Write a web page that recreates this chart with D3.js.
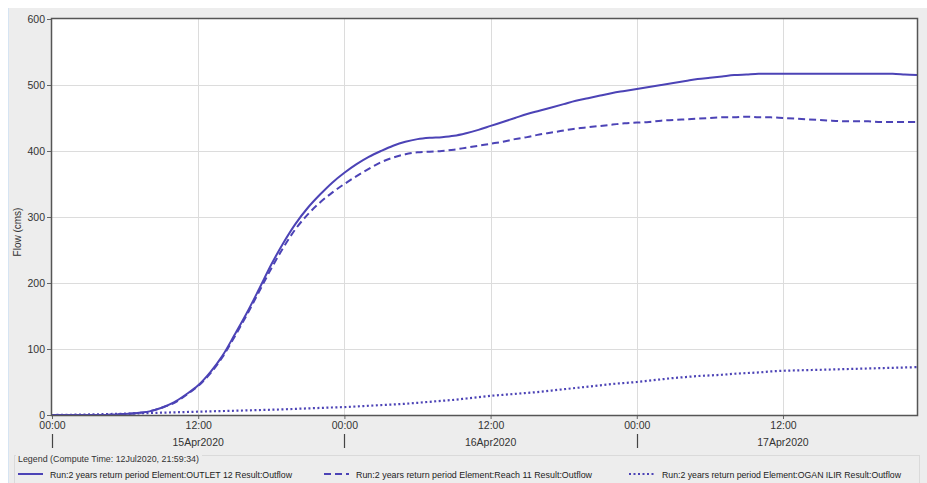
<!DOCTYPE html>
<html>
<head>
<meta charset="utf-8">
<script src="https://cdn.jsdelivr.net/npm/d3@7"></script>
<style>
  body { margin: 0; background: #fff; }
  svg { display: block; font-family: "Liberation Sans", Arial, sans-serif; }
</style>
</head>
<body>
<svg width="927" height="483"></svg>
<script>
// hourly values from 15Apr2020 00:00
var startTime = "2020-04-15T00:00:00Z";
var outlet12 = [0, 0, 0, 0, 0, 0.5, 1.5, 3, 5.5, 11, 19, 31, 45, 65, 90, 122, 155, 191, 228, 261,
  290, 314, 334, 352, 367, 380, 391, 400, 408, 414, 418, 420, 421, 423, 427, 432, 438, 444, 450, 456,
  461, 466, 471, 476, 480, 484, 488, 491, 494, 497, 500, 503, 506, 509, 511, 513, 515, 516, 517, 517,
  517, 517, 517, 517, 517, 517, 517, 517, 517, 517, 516, 515];
var reach11 = [0, 0, 0, 0, 0, 0.5, 1.5, 3, 5.5, 11, 18, 30, 44, 63, 88, 119, 152, 187, 222, 254,
  282, 304, 322, 337, 350, 362, 373, 383, 390, 395, 398, 399, 400, 402, 405, 408, 411, 414, 418, 421,
  425, 428, 431, 434, 436, 438, 440, 442, 443, 444, 446, 447, 448, 449, 450, 451, 451, 452, 451, 451,
  450, 449, 448, 447, 446, 445, 445, 445, 444, 444, 444, 444];
var oganIlir = [0, 0.2, 0.5, 0.8, 1.2, 1.6, 2, 2.5, 3, 3.5, 4, 4.5, 5, 5.5, 6, 6.5, 7, 7.5, 8, 8.6,
  9.3, 10, 10.7, 11.4, 12, 13, 14, 15, 16, 17, 18.5, 20, 21.5, 23, 25, 27, 29, 30.5, 32, 33.5,
  35, 37, 39, 41, 43, 45, 47, 48.5, 50, 52, 54, 56, 57.5, 59, 60, 61, 62.5, 63.5, 64.5, 66,
  67, 67.5, 68, 68.5, 69, 69.5, 70, 70.5, 71, 71.5, 72, 72.5];
var yTicks = [0, 100, 200, 300, 400, 500, 600];
var dayLabels = ["15Apr2020", "16Apr2020", "17Apr2020"];
var legendTitle = "Legend (Compute Time: 12Jul2020, 21:59:34)";
var seriesNames = [
  "Run:2 years return period Element:OUTLET 12 Result:Outflow",
  "Run:2 years return period Element:Reach 11 Result:Outflow",
  "Run:2 years return period Element:OGAN ILIR Result:Outflow"
];

var color = "#4c43b6";
var svg = d3.select("svg"),
    margin = {top: 19, right: 10, bottom: 68, left: 52},
    width = +svg.attr("width") - margin.left - margin.right,
    height = +svg.attr("height") - margin.top - margin.bottom;

var t0 = new Date(startTime);
function toTime(i) { return d3.utcHour.offset(t0, i); }

// panel background
svg.append("rect").attr("x", 8).attr("y", 8).attr("width", 919).attr("height", 475).attr("fill", "#ededed");
svg.append("line").attr("x1", 8.5).attr("x2", 8.5).attr("y1", 8).attr("y2", 483)
    .attr("stroke", "#d6e4f2").attr("stroke-width", 1);

var g = svg.append("g").attr("transform", "translate(" + margin.left + "," + margin.top + ")");

var x = d3.scaleUtc()
    .domain([t0, toTime(outlet12.length - 1)])
    .range([0, width]);
var y = d3.scaleLinear().domain([0, 600]).range([height, 0]);

g.append("rect").attr("width", width).attr("height", height).attr("fill", "#fff");

var xTicks = x.ticks(d3.utcHour.every(12));

// grid
g.append("g").selectAll("line").data(yTicks.slice(1, -1)).enter().append("line")
    .attr("x1", 0).attr("x2", width)
    .attr("y1", function(d) { return Math.round(y(d)) + 0.5; })
    .attr("y2", function(d) { return Math.round(y(d)) + 0.5; })
    .attr("stroke", "#dcdcdc");
g.append("g").selectAll("line").data(xTicks.slice(1)).enter().append("line")
    .attr("y1", 0).attr("y2", height)
    .attr("x1", function(d) { return Math.round(x(d)) + 0.5; })
    .attr("x2", function(d) { return Math.round(x(d)) + 0.5; })
    .attr("stroke", "#dcdcdc");

// axes
var yAxis = g.append("g")
    .call(d3.axisLeft(y).tickValues(yTicks).tickSize(5).tickPadding(2));
var xAxis = g.append("g")
    .attr("transform", "translate(0," + height + ")")
    .call(d3.axisBottom(x).tickValues(xTicks).tickSize(4).tickPadding(3)
      .tickFormat(d3.utcFormat("%H:%M")));
[yAxis, xAxis].forEach(function(a) {
  a.select(".domain").remove();
  a.selectAll("line").attr("stroke", "#666");
  a.selectAll("text").attr("fill", "#333").style("font-size", "10.5px");
});

// day labels and separators
g.append("g").selectAll("text").data(dayLabels).enter().append("text")
    .attr("x", function(d, i) { return x(d3.utcHour.offset(t0, 24 * i + 12)); })
    .attr("y", height + 31)
    .attr("text-anchor", "middle")
    .attr("fill", "#333")
    .style("font-size", "10.5px")
    .text(function(d) { return d; });
g.append("g").selectAll("line").data(xTicks.filter(function(d) { return d.getUTCHours() === 0; }))
    .enter().append("line")
    .attr("x1", function(d) { return Math.round(x(d)) + 0.5; })
    .attr("x2", function(d) { return Math.round(x(d)) + 0.5; })
    .attr("y1", height + 19).attr("y2", height + 33)
    .attr("stroke", "#444").attr("stroke-width", 1.2);

// series
var line = d3.line()
    .x(function(d, i) { return x(toTime(i)); })
    .y(function(d) { return y(d); })
    .curve(d3.curveCatmullRom.alpha(0.5));

var dashes = [null, "7,4", "2,2.5"];
[outlet12, reach11, oganIlir].forEach(function(s, k) {
  g.append("path")
      .datum(s)
      .attr("fill", "none")
      .attr("stroke", color)
      .attr("stroke-width", k === 2 ? 2.2 : 2)
      .attr("stroke-dasharray", dashes[k])
      .attr("d", line);
});

// frame
g.append("rect").attr("x", -0.5).attr("y", -0.5).attr("width", width + 1).attr("height", height + 1)
    .attr("fill", "none").attr("stroke", "#555").attr("stroke-width", 1.5);

// y label
svg.append("text")
    .attr("transform", "translate(21,232) rotate(-90)")
    .attr("text-anchor", "middle")
    .attr("fill", "#333")
    .style("font-size", "10px")
    .text("Flow (cms)");

// legend
svg.append("rect").attr("x", 14.5).attr("y", 455.5).attr("width", 905).attr("height", 30)
    .attr("fill", "none").attr("stroke", "#dadada");
svg.append("rect").attr("x", 16).attr("y", 452).attr("width", 186).attr("height", 10).attr("fill", "#ededed");
svg.append("text").attr("x", 18).attr("y", 462).attr("fill", "#333")
    .style("font-size", "9px")
    .attr("textLength", 181).attr("lengthAdjust", "spacingAndGlyphs")
    .text(legendTitle);

var legendX = [18, 324, 629];
var legendTextW = [242, 236, 239];
var leg = svg.append("g").selectAll("g").data(seriesNames).enter().append("g")
    .attr("transform", function(d, i) { return "translate(" + legendX[i] + ",474)"; });
leg.append("line")
    .attr("x1", 0).attr("x2", function(d, i) { return i === 2 ? 27 : 25; })
    .attr("y1", 0).attr("y2", 0)
    .attr("stroke", color).attr("stroke-width", 2)
    .attr("stroke-dasharray", function(d, i) { return dashes[i]; });
leg.append("text")
    .attr("x", function(d, i) { return i === 2 ? 33 : 32; })
    .attr("y", 3.5)
    .attr("fill", "#222")
    .style("font-size", "9px")
    .attr("textLength", function(d, i) { return legendTextW[i]; })
    .attr("lengthAdjust", "spacingAndGlyphs")
    .text(function(d) { return d; });
</script>
</body>
</html>
